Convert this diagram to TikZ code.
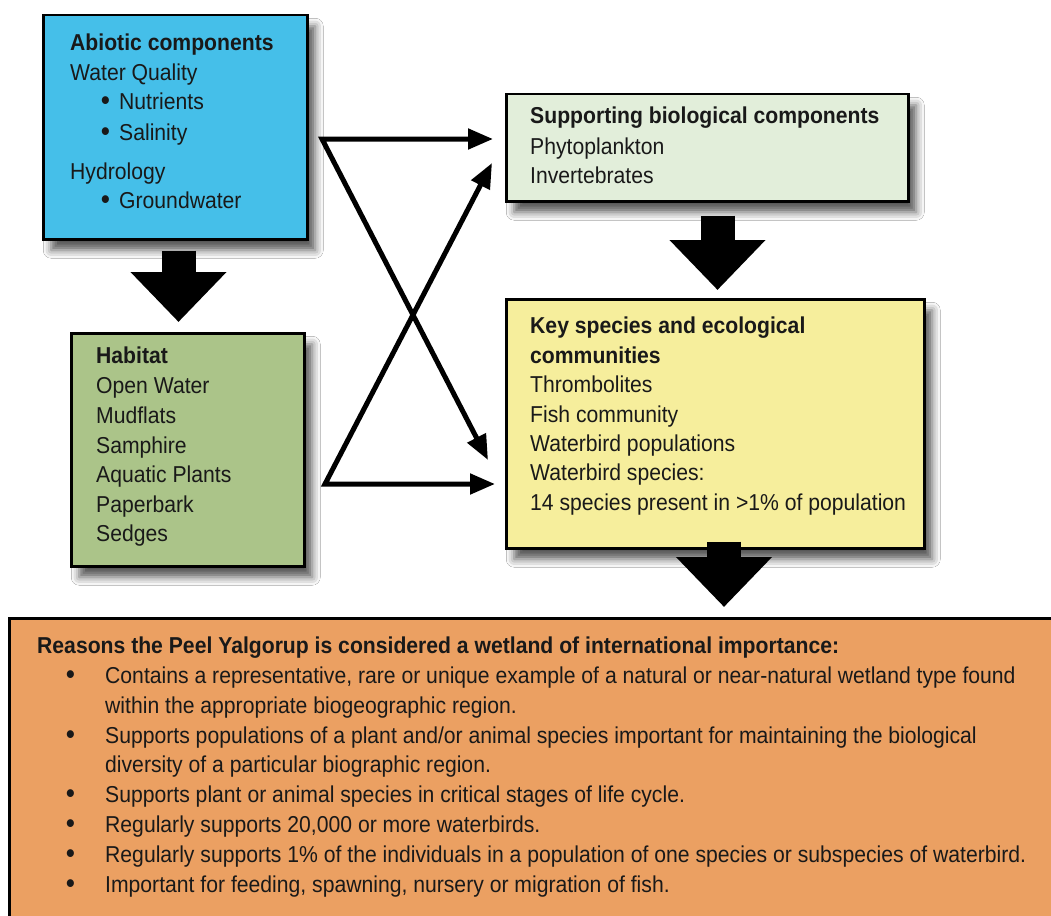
\documentclass[tikz,border=0pt]{standalone}
\usepackage{fontspec}
\setmainfont{Liberation Sans}[FakeStretch=0.92]
\usetikzlibrary{arrows.meta,shadows.blur}
\definecolor{abioblue}{HTML}{45BFE9}
\definecolor{habgreen}{HTML}{ABC489}
\definecolor{supgreen}{HTML}{E2EEDA}
\definecolor{keyyellow}{HTML}{F6EE9C}
\definecolor{reasonorange}{HTML}{EBA062}
\tikzset{
  panel/.style={draw=black, line width=2.5pt, anchor=north west, inner sep=0pt,
    blur shadow={shadow xshift=8pt, shadow yshift=-11pt, shadow blur radius=8pt, shadow opacity=65}},
  flatpanel/.style={draw=black, line width=2.5pt, anchor=north west, inner sep=0pt},
  txt/.style={anchor=base west, inner sep=0pt, text=black!90, font=\fontsize{23}{28}\selectfont},
  hd/.style={txt, font=\fontsize{23}{28}\selectfont\bfseries},
  dot/.style={txt, font=\fontsize{27}{28}\selectfont\bfseries},
  blockarrow/.style={draw=black, line width=34pt, -{Triangle[length=50pt,width=93pt]}},
  linkarrow/.style={draw=black, line width=5pt, line join=miter,
    {Triangle[length=25pt,width=20pt]}-{Triangle[length=25pt,width=20pt]}}
}
\begin{document}
\begin{tikzpicture}[x=1pt,y=-1pt]
\useasboundingbox (0,0) rectangle (1051,915);
\clip (0,0) rectangle (1051,915);
\fill[white] (0,0) rectangle (1051,915);

% boxes
\node[panel, fill=abioblue, minimum width=264pt, minimum height=224pt] (abio) at (42,14) {};
\node[panel, fill=habgreen, minimum width=233pt, minimum height=233pt] (hab) at (70,332) {};
\node[panel, fill=supgreen, minimum width=402pt, minimum height=107pt] (sup) at (505,93) {};
\node[panel, fill=keyyellow, minimum width=418pt, minimum height=249pt] (key) at (505,298) {};
\node[flatpanel, fill=reasonorange, minimum width=1060pt, minimum height=320pt] (reasons) at (8,617) {};

% block arrows
\coordinate (c1) at (178.5,0);
\coordinate (c2) at (717.5,0);
\coordinate (c3) at (724,0);
\draw[blockarrow, shorten <=10pt, shorten >=10pt] (abio.south -| c1) -- (hab.north -| c1);
\draw[blockarrow, shorten <=13pt, shorten >=8pt] (sup.south -| c2) -- (key.north -| c2);
\draw[blockarrow, shorten <=-8pt, shorten >=10pt] (key.south -| c3) -- (reasons.north -| c3);

% crossing links
\coordinate (apexT) at (322,139);
\coordinate (apexB) at (325,484);
\coordinate (tipK) at (488,460);
\coordinate (tipS) at (492,163);
\draw[linkarrow, shorten >=12pt] (tipK) -- (apexT) -- (apexT -| sup.west);
\draw[linkarrow, shorten >=10pt] (tipS) -- (apexB) -- (apexB -| key.west);

% abiotic components
\node[hd] (ab0) at (70,51) {Abiotic components};
\node[txt] (ab1) at (70,81) {Water Quality};
\node[dot] (ab2b) at (101,110) {•};
\node[txt] (ab2) at (119,110) {Nutrients};
\node[dot] (ab3b) at (101,140) {•};
\node[txt] (ab3) at (119,140) {Salinity};
\node[txt] (ab4) at (70,179) {Hydrology};
\node[dot] (ab5b) at (101,208) {•};
\node[txt] (ab5) at (119,208) {Groundwater};

% habitat
\node[hd] (h0) at (96,363) {Habitat};
\node[txt] (h1) at (96,393) {Open Water};
\node[txt] (h2) at (96,423) {Mudflats};
\node[txt] (h3) at (96,453) {Samphire};
\node[txt] (h4) at (96,482) {Aquatic Plants};
\node[txt] (h5) at (96,512) {Paperbark};
\node[txt] (h6) at (96,541) {Sedges};

% supporting biological components
\node[hd] (s0) at (530,124) {Supporting biological components};
\node[txt] (s1) at (530,154) {Phytoplankton};
\node[txt] (s2) at (530,183) {Invertebrates};

% key species
\node[hd] (k0) at (530,333) {Key species and ecological};
\node[hd] (k1) at (530,363) {communities};
\node[txt] (k2) at (530,392) {Thrombolites};
\node[txt] (k3) at (530,422) {Fish community};
\node[txt] (k4) at (530,451) {Waterbird populations};
\node[txt] (k5) at (530,480) {Waterbird species:};
\node[txt] (k6) at (530,510) {14 species present in >1\% of population};

% reasons
\node[hd] (r0) at (37,653) {Reasons the Peel Yalgorup is considered a wetland of international importance:};
\node[dot] (r1b) at (66,683) {•};
\node[txt] (r1) at (105,683) {Contains a representative, rare or unique example of a natural or near-natural wetland type found};
\node[txt] (r2) at (105,713) {within the appropriate biogeographic region.};
\node[dot] (r3b) at (66,743) {•};
\node[txt] (r3) at (105,743) {Supports populations of a plant and/or animal species important for maintaining the biological};
\node[txt] (r4) at (105,772) {diversity of a particular biographic region.};
\node[dot] (r5b) at (66,802) {•};
\node[txt] (r5) at (105,802) {Supports plant or animal species in critical stages of life cycle.};
\node[dot] (r6b) at (66,832) {•};
\node[txt] (r6) at (105,832) {Regularly supports 20,000 or more waterbirds.};
\node[dot] (r7b) at (66,862) {•};
\node[txt] (r7) at (105,862) {Regularly supports 1\% of the individuals in a population of one species or subspecies of waterbird.};
\node[dot] (r8b) at (66,892) {•};
\node[txt] (r8) at (105,892) {Important for feeding, spawning, nursery or migration of fish.};
\end{tikzpicture}
\end{document}
